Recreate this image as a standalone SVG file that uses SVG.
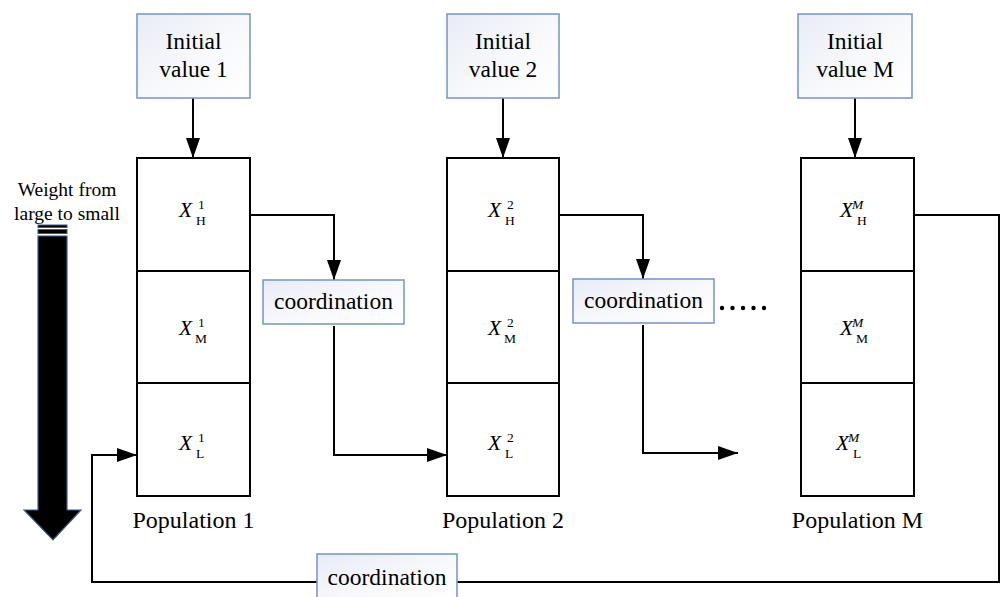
<svg xmlns="http://www.w3.org/2000/svg" width="1000" height="597" viewBox="0 0 1000 597" font-family="'Liberation Serif', 'DejaVu Serif', 'Times New Roman', serif">
  <defs>
    <linearGradient id="soft" x1="0" y1="0" x2="1" y2="1">
      <stop offset="0" stop-color="#e8ecf6"/>
      <stop offset="0.55" stop-color="#f8f9fc"/>
      <stop offset="1" stop-color="#ffffff"/>
    </linearGradient>
    <marker id="arr" markerUnits="userSpaceOnUse" markerWidth="20" markerHeight="14" refX="20" refY="7" orient="auto">
      <path d="M0,0 L20,7 L0,14 z" fill="#000"/>
    </marker>
    <style>
      .lbl { font-size: 23.5px; text-anchor: middle; }
      .pop { font-size: 24px; text-anchor: middle; }
      .note { font-size: 19.5px; text-anchor: middle; }
      .X { font-size: 21.5px; font-style: italic; }
      .s { font-size: 13.5px; }
      .si { font-size: 13.5px; font-style: italic; }
      .blue { fill: url(#soft); stroke: #7394c8; stroke-width: 1.5; }
      .cell { fill: #fff; stroke: #000; stroke-width: 2; }
      .wire { fill: none; stroke: #000; stroke-width: 2; }
    </style>
  </defs>
  <rect width="1000" height="597" fill="#fff"/>

  <!-- weight arrow -->
  <g id="weight">
    <text class="note" x="67" y="196">Weight from</text>
    <text class="note" x="67" y="220">large to small</text>
    <rect x="38" y="225" width="29" height="2.5" fill="#000" stroke="#3b5b8f" stroke-width="1"/>
    <rect x="38" y="229.5" width="29" height="4" fill="#000" stroke="#3b5b8f" stroke-width="1"/>
    <path d="M38,236 H67 V510 H81 L53,540 L24,510 H38 Z" fill="#000" stroke="#3b5b8f" stroke-width="1.2"/>
  </g>

  <!-- connectors -->
  <g id="connectors">
    <line class="wire" x1="193" y1="98" x2="193" y2="158" marker-end="url(#arr)"/>
    <line class="wire" x1="503" y1="98" x2="503" y2="158" marker-end="url(#arr)"/>
    <line class="wire" x1="855" y1="98" x2="855" y2="158" marker-end="url(#arr)"/>
    <polyline class="wire" points="250,215 334,215 334,280" marker-end="url(#arr)"/>
    <polyline class="wire" points="334,326 334,455 447,455" marker-end="url(#arr)"/>
    <polyline class="wire" points="559,215 643,215 643,279" marker-end="url(#arr)"/>
    <polyline class="wire" points="643,325 643,453 738,453" marker-end="url(#arr)"/>
    <polyline class="wire" points="914,215 999,215 999,582 92,582 92,455 137,455" marker-end="url(#arr)"/>
    <g fill="#000">
      <circle cx="722" cy="308" r="2.2"/>
      <circle cx="732.5" cy="308" r="2.2"/>
      <circle cx="743" cy="308" r="2.2"/>
      <circle cx="753.5" cy="308" r="2.2"/>
      <circle cx="764" cy="308" r="2.2"/>
    </g>
  </g>

  <!-- initial values -->
  <g id="init1">
    <rect class="blue" x="137" y="14" width="113" height="84"/>
    <text class="lbl" x="193.5" y="49">Initial</text>
    <text class="lbl" x="193.5" y="77">value 1</text>
  </g>
  <g id="init2">
    <rect class="blue" x="447" y="14" width="112" height="84"/>
    <text class="lbl" x="503" y="49">Initial</text>
    <text class="lbl" x="503" y="77">value 2</text>
  </g>
  <g id="initM">
    <rect class="blue" x="798" y="14" width="114" height="84"/>
    <text class="lbl" x="855" y="49">Initial</text>
    <text class="lbl" x="855" y="77">value M</text>
  </g>

  <!-- population 1 -->
  <g id="pop1">
    <rect class="cell" x="137" y="158" width="113" height="113"/>
    <rect class="cell" x="137" y="271" width="113" height="112"/>
    <rect class="cell" x="137" y="383" width="113" height="113"/>
    <text class="X" x="179" y="217">X</text><text class="s" x="198" y="209">1</text><text class="s" x="196" y="225">H</text>
    <text class="X" x="179" y="335">X</text><text class="s" x="198" y="327">1</text><text class="s" x="195" y="343">M</text>
    <text class="X" x="179" y="450">X</text><text class="s" x="198" y="442">1</text><text class="s" x="196" y="458">L</text>
    <text class="pop" x="193.5" y="528">Population 1</text>
  </g>

  <!-- population 2 -->
  <g id="pop2">
    <rect class="cell" x="447" y="158" width="112" height="113"/>
    <rect class="cell" x="447" y="271" width="112" height="112"/>
    <rect class="cell" x="447" y="383" width="112" height="113"/>
    <text class="X" x="488" y="217">X</text><text class="s" x="507" y="209">2</text><text class="s" x="505" y="225">H</text>
    <text class="X" x="488" y="335">X</text><text class="s" x="507" y="327">2</text><text class="s" x="504" y="343">M</text>
    <text class="X" x="488" y="450">X</text><text class="s" x="507" y="442">2</text><text class="s" x="505" y="458">L</text>
    <text class="pop" x="503" y="528">Population 2</text>
  </g>

  <!-- population M -->
  <g id="popM">
    <rect class="cell" x="801" y="158" width="113" height="113"/>
    <rect class="cell" x="801" y="271" width="113" height="112"/>
    <rect class="cell" x="801" y="383" width="113" height="113"/>
    <text class="X" x="840" y="217">X</text><text class="si" x="852" y="209">M</text><text class="s" x="857" y="225">H</text>
    <text class="X" x="840" y="335">X</text><text class="si" x="852" y="327">M</text><text class="s" x="856" y="343">M</text>
    <text class="X" x="836" y="450">X</text><text class="si" x="848" y="442">M</text><text class="s" x="853" y="458">L</text>
    <text class="pop" x="857.5" y="528">Population M</text>
  </g>

  <!-- coordination blocks -->
  <g id="coord1">
    <rect class="blue" x="263" y="280" width="141" height="44"/>
    <text class="lbl" x="333.5" y="309">coordination</text>
  </g>
  <g id="coord2">
    <rect class="blue" x="573" y="279" width="141" height="44"/>
    <text class="lbl" x="643.5" y="308">coordination</text>
  </g>
  <g id="coord3">
    <rect class="blue" x="317" y="554" width="140" height="50"/>
    <text class="lbl" x="387" y="585">coordination</text>
  </g>
</svg>
